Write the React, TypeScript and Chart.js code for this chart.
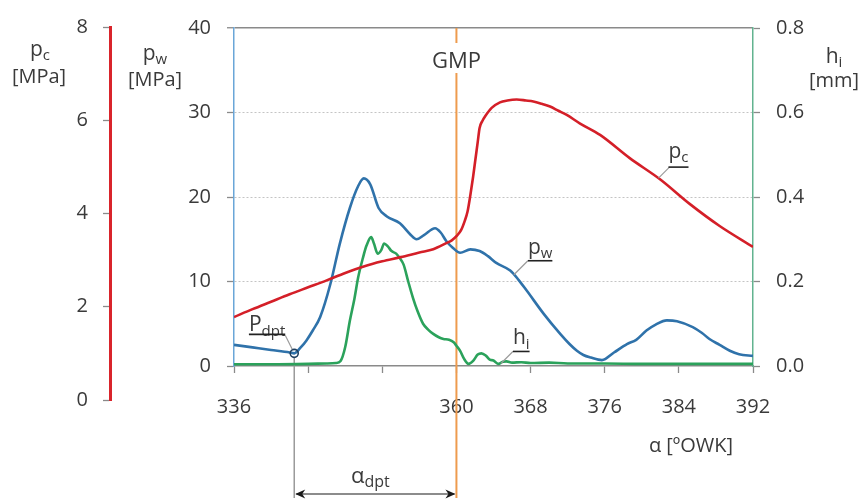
import { useEffect, useRef } from 'react';
import { Chart, registerables } from 'chart.js';

Chart.register(...registerables);

const FONT = "'Open Sans', sans-serif";
const TEXT = '#3a3a3a';

// ---- axis settings ----
const xMin = 336;
const xMax = 392;
const xStep = 8;
const xTickLabelsHidden = [344, 352];
const pwMin = 0;
const pwMax = 40;
const pwStep = 10;
const pcMin = 0;
const pcMax = 8;
const pcStep = 2;
const hiMin = 0;
const hiMax = 0.8;
const hiStep = 0.2;

// ---- markers ----
const gmpAngle = 360;
const pdptAngle = 342.5;
const pdptValue = 1.5;

// ---- p_w (wtrysk) [MPa] ----
const pwAngle = [336, 338, 340, 342, 342.5, 343.2, 343.8, 344.5, 345.3, 346.4, 347.4, 348.5, 349.4, 350.0, 350.7, 351.6, 352.5, 353.9, 355.0, 355.7, 356.5, 357.7, 358.3, 358.9, 359.6, 360.4, 361.5, 362.5, 363.4, 364.3, 365.8, 366.7, 367.6, 369.4, 371.2, 372.2, 373.0, 373.7, 374.5, 375.7, 377.0, 378.4, 379.4, 380.5, 381.5, 382.7, 383.8, 385.5, 386.5, 387.3, 388.4, 389.5, 390.5, 392];
const pwValues = [2.5, 2.2, 1.9, 1.6, 1.5, 2.2, 3.0, 4.2, 5.8, 9.7, 14.4, 18.7, 21.3, 22.2, 21.5, 18.7, 17.7, 16.9, 15.6, 15.0, 15.5, 16.3, 15.8, 14.8, 14.0, 13.4, 13.8, 13.6, 13.0, 12.2, 11.3, 10.2, 8.9, 6.2, 3.8, 2.6, 1.8, 1.3, 1.0, 0.7, 1.6, 2.6, 3.1, 4.2, 4.9, 5.4, 5.3, 4.6, 3.9, 3.2, 2.5, 1.8, 1.4, 1.2];

// ---- h_i (needle lift) [mm] ----
const hiAngle = [336, 340, 344, 346, 347, 347.5, 348.0, 348.5, 349.0, 349.4, 349.9, 350.3, 350.8, 351.1, 351.5, 351.9, 352.2, 352.6, 353.0, 353.5, 353.9, 354.3, 354.8, 355.3, 355.8, 356.4, 357.0, 357.5, 358.1, 358.6, 359.2, 359.7, 360.0, 360.4, 360.8, 361.3, 361.8, 362.3, 362.7, 363.2, 363.6, 364.0, 364.5, 365.0, 365.4, 366, 367, 368, 370, 372, 376, 380, 384, 388, 392];
const hiValues = [0.004, 0.004, 0.005, 0.006, 0.007, 0.012, 0.045, 0.107, 0.16, 0.21, 0.255, 0.285, 0.305, 0.29, 0.266, 0.275, 0.29, 0.283, 0.272, 0.266, 0.255, 0.24, 0.2, 0.162, 0.13, 0.10, 0.085, 0.076, 0.068, 0.064, 0.062, 0.056, 0.048, 0.036, 0.018, 0.005, 0.012, 0.027, 0.030, 0.024, 0.015, 0.013, 0.005, 0.010, 0.011, 0.008, 0.009, 0.007, 0.008, 0.006, 0.006, 0.005, 0.005, 0.005, 0.005];

// ---- p_c (cylinder) [MPa] ----
const pcAngle = [336, 338, 340, 342, 344, 346, 348, 350, 352, 354, 356, 357.5, 358.9, 359.5, 360.0, 360.5, 360.9, 361.2, 361.5, 361.8, 362.0, 362.3, 362.5, 362.8, 363.1, 363.8, 364.7, 365.5, 366.5, 367.5, 368.3, 369.2, 370.1, 371.0, 371.9, 373.3, 375.5, 378.7, 382.0, 385.2, 388.4, 392];
const pcValues = [1.78, 1.95, 2.11, 2.27, 2.42, 2.57, 2.73, 2.87, 2.98, 3.07, 3.17, 3.24, 3.37, 3.43, 3.52, 3.65, 3.85, 4.05, 4.40, 4.80, 5.10, 5.55, 5.85, 6.00, 6.10, 6.28, 6.40, 6.44, 6.46, 6.44, 6.42, 6.37, 6.31, 6.22, 6.13, 5.95, 5.70, 5.20, 4.74, 4.21, 3.74, 3.29];

const zip = (xs: number[], ys: number[]) => xs.map((x, i) => ({ x, y: ys[i] }));

type Part = [string, boolean];

function font(size: number) {
  return `${size}px ${FONT}`;
}

function richWidth(ctx: CanvasRenderingContext2D, parts: Part[], size: number) {
  let w = 0;
  for (const [t, sub] of parts) {
    ctx.font = font(sub ? Math.round(size * 0.72) : size);
    w += ctx.measureText(t).width;
  }
  return w;
}

function drawRich(ctx: CanvasRenderingContext2D, parts: Part[], left: number, baseline: number, size: number) {
  let x = left;
  ctx.fillStyle = TEXT;
  ctx.textAlign = 'left';
  ctx.textBaseline = 'alphabetic';
  for (const [t, sub] of parts) {
    ctx.font = font(sub ? Math.round(size * 0.72) : size);
    ctx.fillText(t, x, sub ? baseline + size * 0.2 : baseline);
    x += ctx.measureText(t).width;
  }
  return x;
}

function drawRichCentered(ctx: CanvasRenderingContext2D, parts: Part[], cx: number, baseline: number, size: number) {
  const w = richWidth(ctx, parts, size);
  drawRich(ctx, parts, cx - w / 2, baseline, size);
}

function line(ctx: CanvasRenderingContext2D, x1: number, y1: number, x2: number, y2: number, color: string, width: number) {
  ctx.save();
  ctx.strokeStyle = color;
  ctx.lineWidth = width;
  ctx.beginPath();
  ctx.moveTo(x1, y1);
  ctx.lineTo(x2, y2);
  ctx.stroke();
  ctx.restore();
}

function arrowHead(ctx: CanvasRenderingContext2D, x: number, y: number, dir: number) {
  ctx.save();
  ctx.fillStyle = '#1a1a1a';
  ctx.beginPath();
  ctx.moveTo(x, y);
  ctx.lineTo(x - dir * 10, y - 4.5);
  ctx.lineTo(x - dir * 7, y);
  ctx.lineTo(x - dir * 10, y + 4.5);
  ctx.closePath();
  ctx.fill();
  ctx.restore();
}

function underlinedLabel(
  ctx: CanvasRenderingContext2D,
  parts: Part[],
  left: number,
  baseline: number,
  underY: number,
  size: number,
) {
  const right = drawRich(ctx, parts, left, baseline, size);
  line(ctx, left, underY, right, underY, '#222', 1.6);
  return right;
}

const annotationPlugin = {
  id: 'engineAnnotations',
  beforeDatasetsDraw(chart: any) {
    const { ctx, scales } = chart;
    const x = scales.x;
    const y = scales.y;
    const gx = x.getPixelForValue(gmpAngle);
    line(ctx, gx, chart.chartArea.top, gx, 498, '#EE9B4E', 2);
    const px = x.getPixelForValue(pdptAngle);
    const py = y.getPixelForValue(pdptValue);
    line(ctx, px, py + 4, px, 498, '#9a9a9a', 1.5);
  },
  afterDraw(chart: any) {
    const { ctx, scales, chartArea } = chart;
    const x = scales.x;
    const y = scales.y;
    const yPc = scales.yPc;
    const yh = scales.yh;
    ctx.save();

    // axis titles
    drawRichCentered(ctx, [['p', false], ['c', true]], 40, 56, 21);
    drawRichCentered(ctx, [['[MPa]', false]], 39, 83, 20);
    drawRichCentered(ctx, [['p', false], ['w', true]], 155, 60, 21);
    drawRichCentered(ctx, [['[MPa]', false]], 155, 86, 20);
    drawRichCentered(ctx, [['h', false], ['i', true]], 834, 63, 21);
    drawRichCentered(ctx, [['[mm]', false]], 834, 87, 20);
    drawRichCentered(ctx, [['α [ºOWK]', false]], 691, 452, 20);

    // GMP label
    const gx = x.getPixelForValue(gmpAngle);
    ctx.font = font(22);
    const gw = ctx.measureText('GMP').width;
    ctx.fillStyle = '#ffffff';
    ctx.fillRect(gx - gw / 2 - 4, chartArea.top + 15, gw + 8, 30);
    drawRichCentered(ctx, [['GMP', false]], gx, chartArea.top + 40, 22);

    // p_c label
    const ax = x.getPixelForValue(381.8);
    const ay = yPc.getPixelForValue(4.77);
    line(ctx, ax, ay, ax + 11, ay - 11, '#9a9a9a', 1.2);
    underlinedLabel(ctx, [['p', false], ['c', true]], ax + 10, ay - 20, ay - 11, 21);

    // p_w label
    const bx = x.getPixelForValue(366.2);
    const by = y.getPixelForValue(10.8);
    line(ctx, bx, by, bx + 14, by - 14, '#9a9a9a', 1.2);
    underlinedLabel(ctx, [['p', false], ['w', true]], bx + 14, by - 21, by - 14, 21);

    // h_i label
    const hx = x.getPixelForValue(364.8);
    const hy = yh.getPixelForValue(0.006);
    line(ctx, hx, hy, hx + 12, hy - 12, '#9a9a9a', 1.2);
    underlinedLabel(ctx, [['h', false], ['i', true]], hx + 12, hy - 19, hy - 12, 21);

    // P_dpt label
    const dx = x.getPixelForValue(pdptAngle);
    const dy = y.getPixelForValue(pdptValue);
    const pParts: Part[] = [['P', false], ['dpt', true]];
    const pw = richWidth(ctx, pParts, 21);
    const pRight = dx - 9;
    underlinedLabel(ctx, pParts, pRight - pw, dy - 22, dy - 19, 21);
    line(ctx, pRight, dy - 18, dx - 2, dy - 4, '#9a9a9a', 1.2);

    // alpha_dpt dimension arrow
    const ayArrow = 494;
    line(ctx, dx + 2, ayArrow, gx - 2, ayArrow, '#1a1a1a', 1.2);
    arrowHead(ctx, dx + 1, ayArrow, -1);
    arrowHead(ctx, gx - 1, ayArrow, 1);
    const aParts: Part[] = [['α', false], ['dpt', true]];
    const aw = richWidth(ctx, aParts, 22);
    drawRich(ctx, aParts, (dx + gx) / 2 - aw / 2 - 5, 483, 22);

    ctx.restore();
  },
};

export default function App() {
  const mainRef = useRef<HTMLCanvasElement>(null);
  const pcRef = useRef<HTMLCanvasElement>(null);

  useEffect(() => {
    if (!mainRef.current || !pcRef.current) return;
    const tickFont = { family: FONT, size: 20 };

    const main = new Chart(mainRef.current, {
      type: 'line',
      data: {
        datasets: [
          {
            label: 'Pdpt',
            data: [{ x: pdptAngle, y: pdptValue }],
            yAxisID: 'y',
            showLine: false,
            pointRadius: 4,
            pointBorderWidth: 1.6,
            pointBorderColor: '#1f3f5f',
            pointBackgroundColor: 'rgba(0,0,0,0)',
            order: 0,
          },
          {
            label: 'pc',
            data: zip(pcAngle, pcValues),
            yAxisID: 'yPc',
            borderColor: '#D41F28',
            borderWidth: 2.6,
            pointRadius: 0,
            cubicInterpolationMode: 'monotone',
            order: 1,
          },
          {
            label: 'pw',
            data: zip(pwAngle, pwValues),
            yAxisID: 'y',
            borderColor: '#2F72AA',
            borderWidth: 2.6,
            pointRadius: 0,
            cubicInterpolationMode: 'monotone',
            order: 2,
          },
          {
            label: 'hi',
            data: zip(hiAngle, hiValues),
            yAxisID: 'yh',
            borderColor: '#2BA25B',
            borderWidth: 2.6,
            pointRadius: 0,
            cubicInterpolationMode: 'monotone',
            order: 3,
          },
        ],
      },
      options: {
        animation: false,
        responsive: false,
        events: [],
        layout: { padding: { left: 0, right: 0, top: 26, bottom: 0 } },
        plugins: { legend: { display: false }, tooltip: { enabled: false } },
        scales: {
          x: {
            type: 'linear',
            min: xMin,
            max: xMax,
            ticks: {
              stepSize: xStep,
              autoSkip: false,
              maxRotation: 0,
              padding: 22,
              color: TEXT,
              font: tickFont,
              callback: (v: any) => (xTickLabelsHidden.includes(Number(v)) ? '' : String(v)),
            },
            grid: { drawOnChartArea: false, tickLength: 7, tickColor: '#8a8a8a', tickWidth: 1.3 },
            border: { color: '#8a8a8a', width: 1.5 },
            afterFit: (s: any) => {
              s.height = 134;
            },
          },
          y: {
            type: 'linear',
            position: 'left',
            min: pwMin,
            max: pwMax,
            ticks: { stepSize: pwStep, padding: 16, color: TEXT, font: tickFont },
            grid: {
              color: (c: any) => (c.tick && c.tick.value === pwMax ? '#8a8a8a' : c.tick && c.tick.value === pwMin ? 'rgba(0,0,0,0)' : '#c4c4c4'),
              lineWidth: (c: any) => (c.tick && c.tick.value === pwMax ? 1.5 : 1),
              tickLength: 7,
              tickColor: '#8a8a8a',
              tickWidth: 1.3,
            },
            border: {
              color: '#6AA6D8',
              width: 1.5,
              dash: (c: any) => (c.tick && c.tick.value !== pwMax ? [2, 2] : []),
            },
            afterFit: (s: any) => {
              s.width = 234;
            },
          },
          yPc: {
            type: 'linear',
            position: 'left',
            display: false,
            min: 0.727,
            max: pcMax,
          },
          yh: {
            type: 'linear',
            position: 'right',
            min: hiMin,
            max: hiMax,
            ticks: {
              stepSize: hiStep,
              padding: 16,
              color: TEXT,
              font: tickFont,
              callback: (v: any) => Number(v).toFixed(1),
            },
            grid: { drawOnChartArea: false, tickLength: 7, tickColor: '#8a8a8a', tickWidth: 1.3 },
            border: { color: '#62B38F', width: 1.5 },
            afterFit: (s: any) => {
              s.width = 110;
            },
          },
        },
      } as any,
      plugins: [annotationPlugin],
    });

    const pcAxis = new Chart(pcRef.current, {
      type: 'line',
      data: { datasets: [] },
      options: {
        animation: false,
        responsive: false,
        events: [],
        layout: { padding: { left: 0, right: 10, top: 26, bottom: 100 } },
        plugins: { legend: { display: false }, tooltip: { enabled: false } },
        scales: {
          x: { type: 'linear', display: false, min: 0, max: 1 },
          y: {
            type: 'linear',
            position: 'left',
            min: pcMin,
            max: pcMax,
            ticks: { stepSize: pcStep, padding: 15, color: TEXT, font: tickFont },
            grid: { drawOnChartArea: false, tickLength: 7, tickColor: '#8a8a8a', tickWidth: 1.3 },
            border: { color: '#D9242B', width: 3 },
            afterFit: (s: any) => {
              s.width = 110;
            },
          },
        },
      } as any,
    });

    return () => {
      main.destroy();
      pcAxis.destroy();
    };
  }, []);

  return (
    <div style={{ position: 'absolute', left: 0, top: 0, width: 863, height: 500, background: '#ffffff' }}>
      <canvas ref={pcRef} width={130} height={500} style={{ position: 'absolute', left: 0, top: 0 }} />
      <canvas ref={mainRef} width={863} height={500} style={{ position: 'absolute', left: 0, top: 0 }} />
    </div>
  );
}
